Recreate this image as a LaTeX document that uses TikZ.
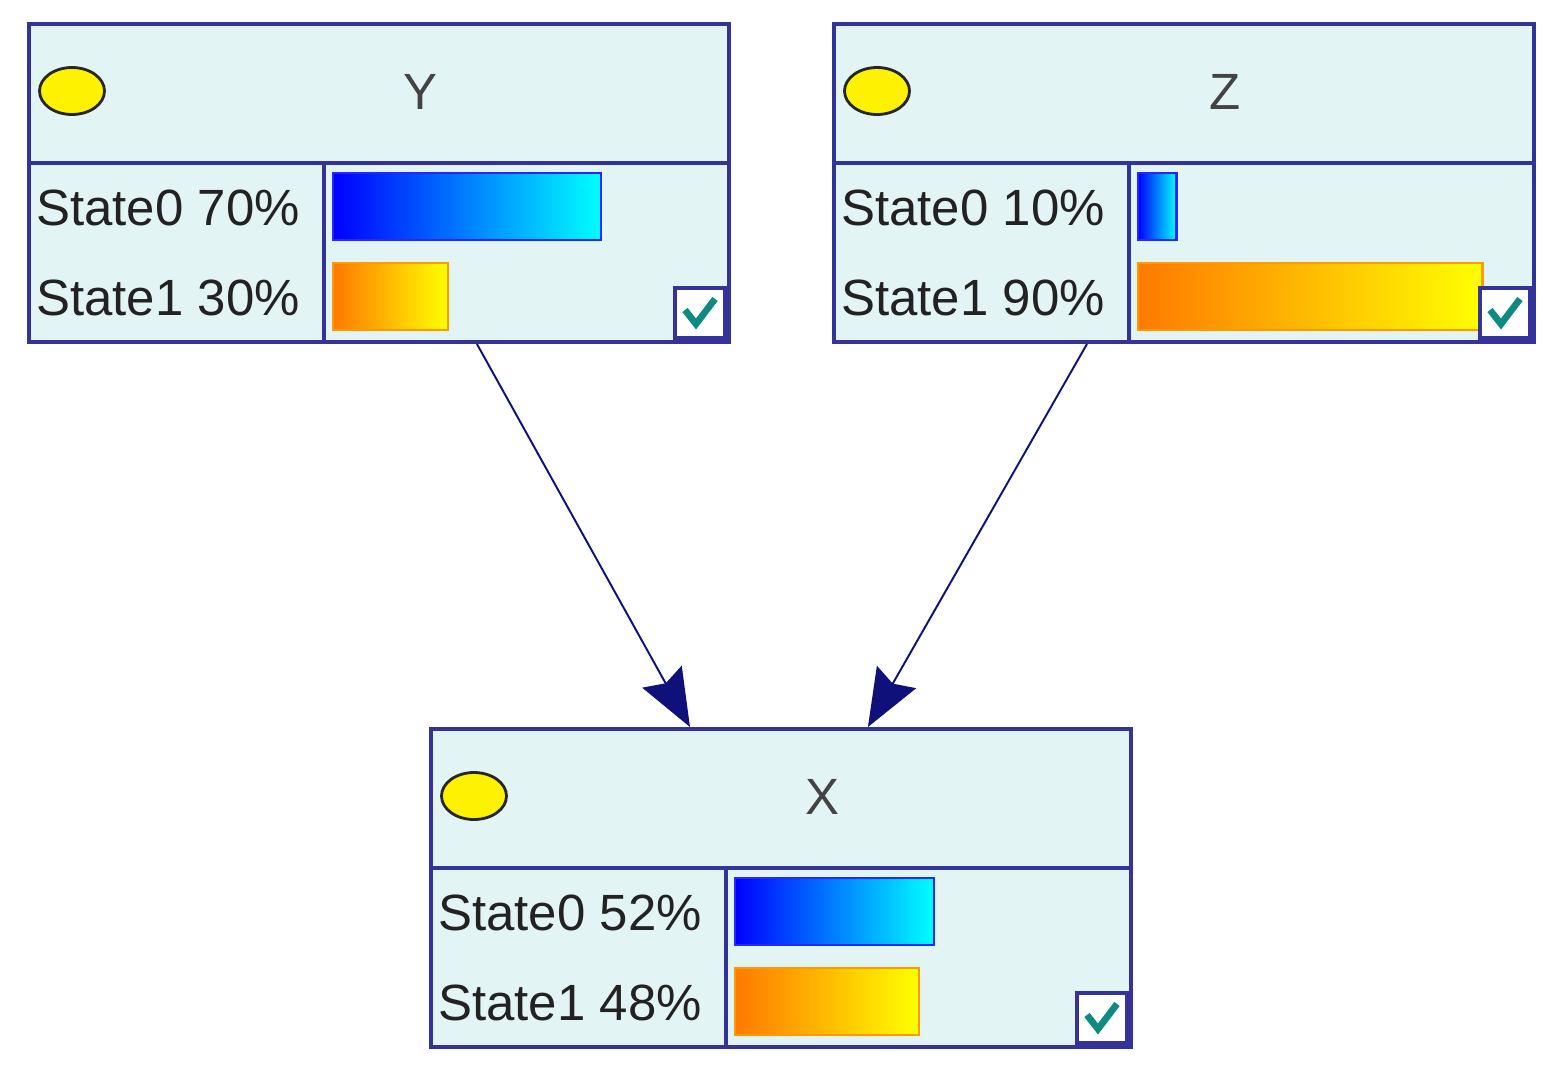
\documentclass[tikz,border=0pt]{standalone}
\usepackage{fontspec}
\setmainfont{Liberation Sans}
\usepackage{tikz}
\usetikzlibrary{arrows.meta,shapes.geometric}
\definecolor{boxfill}{HTML}{E3F4F4}
\definecolor{boxblue}{HTML}{33339A}
\definecolor{linknavy}{HTML}{10107A}
\definecolor{inktext}{HTML}{222222}
\definecolor{checkteal}{HTML}{0E8A82}
\tikzset{
  boxframe/.style={draw=boxblue,fill=boxfill,line width=2.3pt,
    minimum width=14cm,minimum height=6.36cm,inner sep=0pt},
  boxline/.style={draw=boxblue,line width=2.3pt},
  led/.style={ellipse,draw=black!85,fill=yellow,line width=1.6pt,
    minimum width=1.3cm,minimum height=0.94cm,inner sep=0pt},
  titletext/.style={text=inktext!85,font=\fontsize{29}{34}\selectfont,inner sep=0pt},
  statetext/.style={text=inktext,font=\fontsize{29}{34}\selectfont,inner sep=0pt},
  bluebar/.style={left color=blue,right color=cyan,draw=blue!85!white,line width=1.4pt},
  orangebar/.style={left color=orange!95!red,right color=yellow,draw=orange!80!yellow,line width=1.4pt},
  tickbox/.style={draw=boxblue,fill=white,line width=2.3pt,minimum size=1cm,inner sep=0pt},
  tickmark/.style={draw=checkteal,line width=3.8pt},
  link/.style={draw=linknavy,line width=1.1pt,
    -{Stealth[length=1.15cm,width=0.9cm,inset=0.15cm,fill=linknavy]}},
}
% name, left, top, title, state0 %, state1 %
\newcommand{\netbox}[6]{%
  \begin{scope}[shift={(#2,#3)}]
    \node[boxframe,anchor=north west] (#1) at (0,0) {};
    \draw[boxline] (0,141) -- (700,141) (297,141) -- (297,318);
    \node[led] (#1-led) at (45,69) {};
    \node[titletext,anchor=base] (#1-title) at (393,87) {#4};
    %
    \node[statetext,anchor=base west] (#1-s0) at (9,203) {State0 #5\%};
    \node[statetext,anchor=base west] (#1-s1) at (9,293) {State1 #6\%};
    \draw[bluebar] (306,151) rectangle ++(#5*3.83,67);
    \draw[orangebar] (306,241) rectangle ++(#6*3.83,67);
    %
    \node[tickbox,anchor=south east] (#1-tick) at (700,318) {};
    \draw[tickmark] ([shift={(-15,-3)}]#1-tick.center) -- ([shift={(-4,11)}]#1-tick.center)
      -- ([shift={(15,-14)}]#1-tick.center);
  \end{scope}}

\begin{document}
\begin{tikzpicture}[x=0.02cm,y=-0.02cm]
  \useasboundingbox[fill=white] (0,0) rectangle (1560,1066);
  %
  \netbox{Y}{27}{22}{Y}{70}{30}
  \netbox{Z}{832}{22}{Z}{10}{90}
  \netbox{X}{429}{727}{X}{52}{48}
  %
  \path
  ([xshift=1.96cm]Y.south) edge[link] ([xshift=-1.82cm]X.north)
  ([xshift=-1.94cm]Z.south) edge[link] ([xshift=1.74cm]X.north);
\end{tikzpicture}
\end{document}
